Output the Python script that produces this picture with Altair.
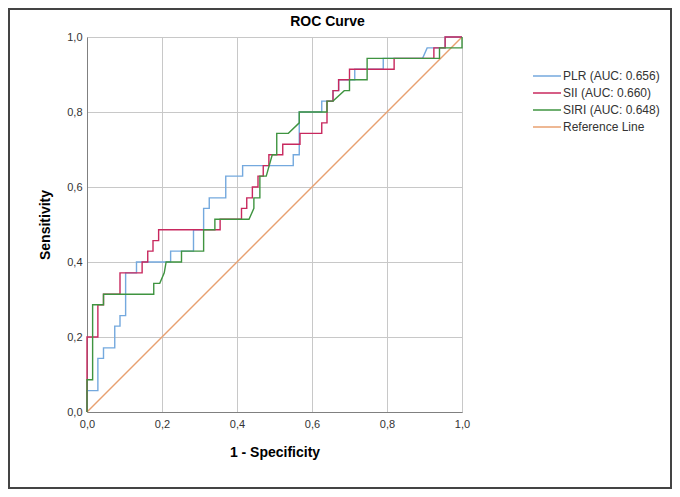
import altair as alt
import pandas as pd

# ---- data ----
plr_fpr = [0.000, 0.000, 0.029, 0.029, 0.044, 0.044, 0.074, 0.074, 0.088, 0.088,
           0.103, 0.103, 0.132, 0.132, 0.223, 0.223, 0.284, 0.284, 0.311, 0.311,
           0.326, 0.326, 0.370, 0.370, 0.415, 0.415, 0.550, 0.550, 0.566, 0.566,
           0.626, 0.626, 0.656, 0.656, 0.671, 0.671, 0.714, 0.714, 0.790, 0.790,
           0.895, 0.907, 0.955, 0.955, 1.000]
plr_tpr = [0.000, 0.057, 0.057, 0.143, 0.143, 0.171, 0.171, 0.229, 0.229, 0.257,
           0.257, 0.371, 0.371, 0.400, 0.400, 0.429, 0.429, 0.486, 0.486, 0.543,
           0.543, 0.571, 0.571, 0.629, 0.629, 0.657, 0.657, 0.686, 0.686, 0.800,
           0.800, 0.829, 0.829, 0.857, 0.857, 0.886, 0.886, 0.914, 0.914, 0.943,
           0.943, 0.971, 0.971, 1.000, 1.000]

sii_fpr = [0.000, 0.000, 0.029, 0.029, 0.044, 0.044, 0.088, 0.088, 0.147, 0.147,
           0.162, 0.162, 0.176, 0.176, 0.191, 0.191, 0.355, 0.355, 0.412, 0.412,
           0.426, 0.426, 0.441, 0.441, 0.456, 0.456, 0.470, 0.470, 0.485, 0.485,
           0.522, 0.522, 0.568, 0.568, 0.626, 0.626, 0.640, 0.640, 0.656, 0.656,
           0.671, 0.671, 0.700, 0.700, 0.819, 0.819, 0.925, 0.925, 0.955, 0.955,
           1.000]
sii_tpr = [0.000, 0.200, 0.200, 0.286, 0.286, 0.314, 0.314, 0.371, 0.371, 0.400,
           0.400, 0.429, 0.429, 0.457, 0.457, 0.486, 0.486, 0.514, 0.514, 0.543,
           0.543, 0.571, 0.571, 0.600, 0.600, 0.629, 0.629, 0.657, 0.657, 0.686,
           0.686, 0.714, 0.714, 0.743, 0.743, 0.771, 0.771, 0.829, 0.829, 0.857,
           0.857, 0.886, 0.886, 0.914, 0.914, 0.943, 0.943, 0.971, 0.971, 1.000,
           1.000]

siri_fpr = [0.000, 0.000, 0.015, 0.015, 0.044, 0.044, 0.178, 0.178, 0.194, 0.206,
            0.211, 0.252, 0.252, 0.311, 0.311, 0.341, 0.341, 0.432, 0.445, 0.445,
            0.461, 0.461, 0.478, 0.494, 0.506, 0.506, 0.537, 0.566, 0.566, 0.640,
            0.640, 0.656, 0.686, 0.700, 0.700, 0.747, 0.747, 0.940, 0.940, 1.000,
            1.000]
siri_tpr = [0.000, 0.086, 0.086, 0.286, 0.286, 0.314, 0.314, 0.343, 0.343, 0.371,
            0.400, 0.400, 0.429, 0.429, 0.486, 0.486, 0.514, 0.514, 0.543, 0.571,
            0.571, 0.629, 0.629, 0.686, 0.686, 0.743, 0.743, 0.771, 0.800, 0.800,
            0.829, 0.829, 0.857, 0.857, 0.886, 0.886, 0.943, 0.943, 0.971, 0.971,
            1.000]

ref_x = [0.0, 1.0]
ref_y = [0.0, 1.0]

series_names = ["PLR (AUC: 0.656)", "SII (AUC: 0.660)", "SIRI (AUC: 0.648)", "Reference Line"]
series_colors = ["#74a9de", "#c8285e", "#3f9440", "#e8a070"]
tick_values = [0.0, 0.2, 0.4, 0.6, 0.8, 1.0]

# ---- build the table ----
rows = []
draw_order = [(series_names[3], ref_x, ref_y),
              (series_names[0], plr_fpr, plr_tpr),
              (series_names[1], sii_fpr, sii_tpr),
              (series_names[2], siri_fpr, siri_tpr)]
for name, xs, ys in draw_order:
    assert len(xs) == len(ys)
    for i, (x, y) in enumerate(zip(xs, ys)):
        rows.append({"series": name, "fpr": x, "tpr": y, "idx": i})
df = pd.DataFrame(rows)

label_expr = "replace(format(datum.value, '.1f'), '.', ',')"

lines = alt.Chart(df).mark_line(strokeWidth=1.4, clip=False).encode(
    x=alt.X("fpr:Q", title="1 - Specificity",
            scale=alt.Scale(domain=[0, 1], nice=False),
            axis=alt.Axis(values=tick_values, labelExpr=label_expr,
                          labelFlush=False, labelPadding=6, titlePadding=16)),
    y=alt.Y("tpr:Q", title="Sensitivity",
            scale=alt.Scale(domain=[0, 1], nice=False),
            axis=alt.Axis(values=tick_values, labelExpr=label_expr,
                          labelFlush=False, labelPadding=5, titlePadding=14)),
    color=alt.Color("series:N",
                    scale=alt.Scale(domain=series_names, range=series_colors),
                    legend=alt.Legend(title=None, orient="none",
                                      legendX=452, legendY=31,
                                      symbolType="M-2,0L2,0", symbolSize=196,
                                      symbolStrokeWidth=1.5,
                                      labelFontSize=12, labelColor="#333333",
                                      labelOffset=8, rowPadding=3)),
    detail="series:N",
    order="idx:Q",
)

frame = alt.Chart(pd.DataFrame({"k": [0]})).mark_rect(
    fillOpacity=0, stroke="#444444", strokeWidth=2
).encode(
    x=alt.value(-78), x2=alt.value(584),
    y=alt.value(-28), y2=alt.value(451),
)

chart = alt.layer(frame, lines).properties(
    width=375, height=375,
    title=alt.TitleParams("ROC Curve", fontSize=14, fontWeight="bold",
                          anchor="middle", frame="group", dx=53, offset=-21,
                          color="#000000"),
    autosize=alt.AutoSizeParams(type="none"),
    padding={"left": 79, "top": 29, "right": 210, "bottom": 77},
).configure(
    font="Liberation Sans",
).configure_view(
    stroke="#c8c8c8",
).configure_axis(
    labelFontSize=11, labelColor="#333333",
    titleFontSize=14, titleFontWeight="bold", titleColor="#000000",
    grid=True, gridColor="#c8c8c8", gridWidth=1,
    domainColor="#808080", ticks=False,
)

chart.save("out.html", embed_options={"renderer": "svg", "actions": False})
